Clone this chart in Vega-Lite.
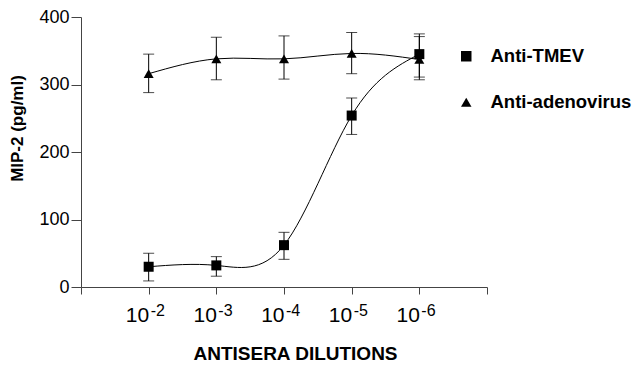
{
  "$schema": "https://vega.github.io/schema/vega-lite/v6.json",
  "autosize": {"type": "none"},
  "padding": {"left": 81, "top": 17, "right": 154, "bottom": 83},
  "width": 406,
  "height": 270,
  "background": "white",
  "config": {"view": {"stroke": null}, "font": "Liberation Sans"},
  "data": {"values": [
    {"pos": 1, "series": "Anti-TMEV", "mean": 30, "lo": 9, "hi": 50, "exp": "-2"},
    {"pos": 2, "series": "Anti-TMEV", "mean": 32, "lo": 16, "hi": 45, "exp": "-3"},
    {"pos": 3, "series": "Anti-TMEV", "mean": 62, "lo": 41, "hi": 81, "exp": "-4"},
    {"pos": 4, "series": "Anti-TMEV", "mean": 254, "lo": 226, "hi": 280, "exp": "-5"},
    {"pos": 5, "series": "Anti-TMEV", "mean": 345, "lo": 311, "hi": 375, "exp": "-6"},
    {"pos": 1, "series": "Anti-adenovirus", "mean": 316, "lo": 288, "hi": 345},
    {"pos": 2, "series": "Anti-adenovirus", "mean": 338, "lo": 307, "hi": 370},
    {"pos": 3, "series": "Anti-adenovirus", "mean": 338, "lo": 308, "hi": 372},
    {"pos": 4, "series": "Anti-adenovirus", "mean": 346, "lo": 316, "hi": 377},
    {"pos": 5, "series": "Anti-adenovirus", "mean": 337, "lo": 307, "hi": 371}
  ]},
  "encoding": {
    "x": {
      "field": "pos", "type": "quantitative",
      "scale": {"domain": [0, 6], "nice": false, "zero": false},
      "axis": {
        "values": [0, 1, 2, 3, 4, 5, 6],
        "labelExpr": "datum.value >= 1 && datum.value <= 5 ? '10' : ''",
        "labelAlign": "right", "labelDx": 4,
        "labelFontSize": 21, "labelColor": "black", "labelPadding": 10,
        "tickSize": 7, "tickColor": "#444", "domainColor": "#444",
        "grid": false,
        "title": "ANTISERA DILUTIONS", "titleFontSize": 19, "titleFontWeight": "bold",
        "titleColor": "black", "titleX": 214, "titleY": 66, "titleBaseline": "middle"
      }
    }
  },
  "layer": [
    {
      "mark": {"type": "line", "interpolate": "natural", "color": "black", "strokeWidth": 1},
      "encoding": {
        "y": {
          "field": "mean", "type": "quantitative",
          "scale": {"domain": [0, 400], "nice": false},
          "axis": {
            "values": [0, 100, 200, 300, 400],
            "labelFontSize": 18, "labelColor": "black", "labelPadding": 2,
            "tickSize": 10, "tickColor": "#444", "domainColor": "#444",
            "grid": false,
            "title": "MIP-2 (pg/ml)", "titleFontSize": 17, "titleFontWeight": "bold",
            "titleColor": "black", "titleX": -64, "titleY": 111,
            "titleAlign": "center", "titleBaseline": "middle", "titleAngle": -90
          }
        },
        "detail": {"field": "series"}
      }
    },
    {
      "mark": {"type": "rule", "color": "black", "strokeWidth": 1},
      "encoding": {"y": {"field": "lo", "type": "quantitative"}, "y2": {"field": "hi"}}
    },
    {
      "mark": {"type": "tick", "orient": "horizontal", "color": "black", "size": 11, "thickness": 1},
      "encoding": {"y": {"field": "lo", "type": "quantitative"}}
    },
    {
      "mark": {"type": "tick", "orient": "horizontal", "color": "black", "size": 11, "thickness": 1},
      "encoding": {"y": {"field": "hi", "type": "quantitative"}}
    },
    {
      "mark": {"type": "point", "filled": true, "opacity": 1, "color": "black"},
      "encoding": {
        "y": {"field": "mean", "type": "quantitative"},
        "shape": {
          "field": "series", "type": "nominal",
          "scale": {"domain": ["Anti-TMEV", "Anti-adenovirus"], "range": ["square", "triangle-up"]},
          "legend": {
            "title": null, "orient": "none", "legendX": 376, "legendY": 30,
            "labelFontSize": 18.5, "labelFontWeight": "bold", "labelColor": "black",
            "labelOffset": 15, "rowPadding": 27, "symbolSize": 110, "labelLimit": 200,
            "symbolFillColor": "black", "symbolStrokeColor": "black", "symbolOpacity": 1
          }
        },
        "size": {"value": 100}
      }
    },
    {
      "transform": [{"filter": "datum.exp != null"}],
      "mark": {"type": "text", "align": "left", "baseline": "top", "dx": 2, "dy": 16, "fontSize": 16, "color": "black"},
      "encoding": {
        "y": {"datum": 0},
        "text": {"field": "exp"}
      }
    }
  ]
}
